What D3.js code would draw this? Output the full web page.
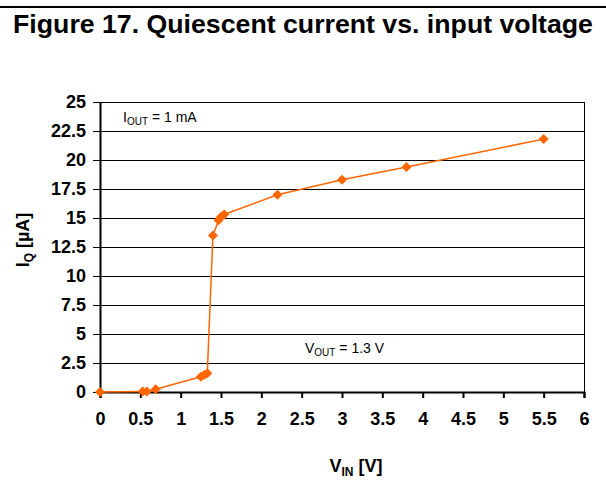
<!DOCTYPE html>
<html>
<head lang="en">
  <meta charset="UTF-8">
  <title>Quiescent current vs. input voltage</title>
</head>
<style>
  body { margin: 0; background: #fff; }
  #chart text { font-family: Arial, "Liberation Sans", sans-serif; fill: #000; }
  #chart .tick text { font-size: 18px; font-weight: bold; }
  #chart .grid line { stroke: #000; stroke-width: 1; shape-rendering: crispEdges; }
</style>
<body>

<svg id="chart" width="606" height="496"></svg>

<script src="https://cdn.jsdelivr.net/npm/d3@7"></script>
<script>
  // Chart data
  var vin = [0, 0.53, 0.58, 0.69, 1.25, 1.29, 1.33, 1.40, 1.47, 1.50, 1.54, 2.2, 3.0, 3.8, 5.5];
  var iq  = [0, 0.05, 0.05, 0.23, 1.32, 1.47, 1.61, 13.5, 14.8, 15.1, 15.3, 17.0, 18.3, 19.4, 21.8];
  var xTicks = [0, 0.5, 1, 1.5, 2, 2.5, 3, 3.5, 4, 4.5, 5, 5.5, 6];
  var yTicks = [0, 2.5, 5, 7.5, 10, 12.5, 15, 17.5, 20, 22.5, 25];

  var orange = '#ff6600';
  var plotLeft = 100, plotRight = 584, plotTop = 102, plotBottom = 392;

  var svg = d3.select('#chart');

  var x = d3.scaleLinear().domain([0, 6]).range([plotLeft, plotRight]);
  var y = d3.scaleLinear().domain([0, 25]).range([plotBottom, plotTop]);

  // Title and rule above it
  svg.append('line')
    .attr('x1', 0).attr('x2', 606).attr('y1', 7).attr('y2', 7)
    .attr('stroke', '#000').attr('stroke-width', 2);
  svg.append('text')
    .attr('x', 303).attr('y', 33)
    .attr('text-anchor', 'middle')
    .style('font-size', '26.7px').style('font-weight', 'bold')
    .text('Figure 17. Quiescent current vs. input voltage');

  // Horizontal gridlines (also make the y ticks)
  svg.append('g')
    .attr('class', 'grid')
    .selectAll('line')
    .data(yTicks)
    .enter()
      .append('line')
      .attr('x1', plotLeft - 7).attr('x2', plotRight)
      .attr('y1', function(d) { return Math.round(y(d)) + 0.5; })
      .attr('y2', function(d) { return Math.round(y(d)) + 0.5; });

  // Right border
  svg.append('line')
    .attr('x1', plotRight + 0.5).attr('x2', plotRight + 0.5)
    .attr('y1', plotTop).attr('y2', plotBottom)
    .attr('stroke', '#000').attr('shape-rendering', 'crispEdges');

  // Y axis
  var yAxis = svg.append('g')
    .attr('transform', 'translate(' + plotLeft + ',0)')
    .call(d3.axisLeft(y).tickValues(yTicks).tickSize(0).tickPadding(14)
      .tickFormat(function(d) { return d; }));
  yAxis.select('.domain').attr('stroke-width', 2);

  // X axis
  var xAxis = svg.append('g')
    .attr('transform', 'translate(0,' + plotBottom + ')')
    .call(d3.axisBottom(x).tickValues(xTicks).tickSize(6).tickPadding(14)
      .tickFormat(function(d) { return d; }));
  xAxis.select('.domain').attr('stroke-width', 2);
  xAxis.selectAll('.tick line').attr('stroke-width', 2);

  // Axis titles
  var yTitle = svg.append('text')
    .attr('transform', 'translate(29,240) rotate(-90)')
    .attr('text-anchor', 'middle')
    .style('font-size', '18px').style('font-weight', 'bold');
  yTitle.append('tspan').text('I');
  yTitle.append('tspan').attr('dy', 4).style('font-size', '12px').text('Q');
  yTitle.append('tspan').attr('dy', -4).text(' [µA]');

  var xTitle = svg.append('text')
    .attr('x', 356).attr('y', 472)
    .attr('text-anchor', 'middle')
    .style('font-size', '18px').style('font-weight', 'bold');
  xTitle.append('tspan').text('V');
  xTitle.append('tspan').attr('dy', 4).style('font-size', '12px').text('IN');
  xTitle.append('tspan').attr('dy', -4).text(' [V]');

  // Annotations
  function note(tx, ty, main, sub, rest) {
    var t = svg.append('text').attr('x', tx).attr('y', ty).style('font-size', '14px');
    t.append('tspan').text(main);
    t.append('tspan').attr('dy', 3).style('font-size', '10px').text(sub);
    t.append('tspan').attr('dy', -3).text(rest);
  }
  note(123, 122, 'I', 'OUT', ' = 1 mA');
  note(305, 353, 'V', 'OUT', ' = 1.3 V');

  // Series
  var points = vin.map(function(v, i) { return [v, iq[i]]; });

  svg.append('path')
    .datum(points)
    .attr('fill', 'none')
    .attr('stroke', orange)
    .attr('stroke-width', 1.5)
    .attr('d', d3.line()
      .x(function(d) { return x(d[0]); })
      .y(function(d) { return y(d[1]); }));

  // diamond markers: squares turned 45 degrees
  svg.append('g')
    .selectAll('path')
    .data(points)
    .enter()
      .append('path')
      .attr('fill', orange)
      .attr('d', d3.symbol().type(d3.symbolSquare).size(50))
      .attr('transform', function(d) {
        return 'translate(' + x(d[0]) + ',' + y(d[1]) + ') rotate(45)';
      });
</script>
</body>
</html>
